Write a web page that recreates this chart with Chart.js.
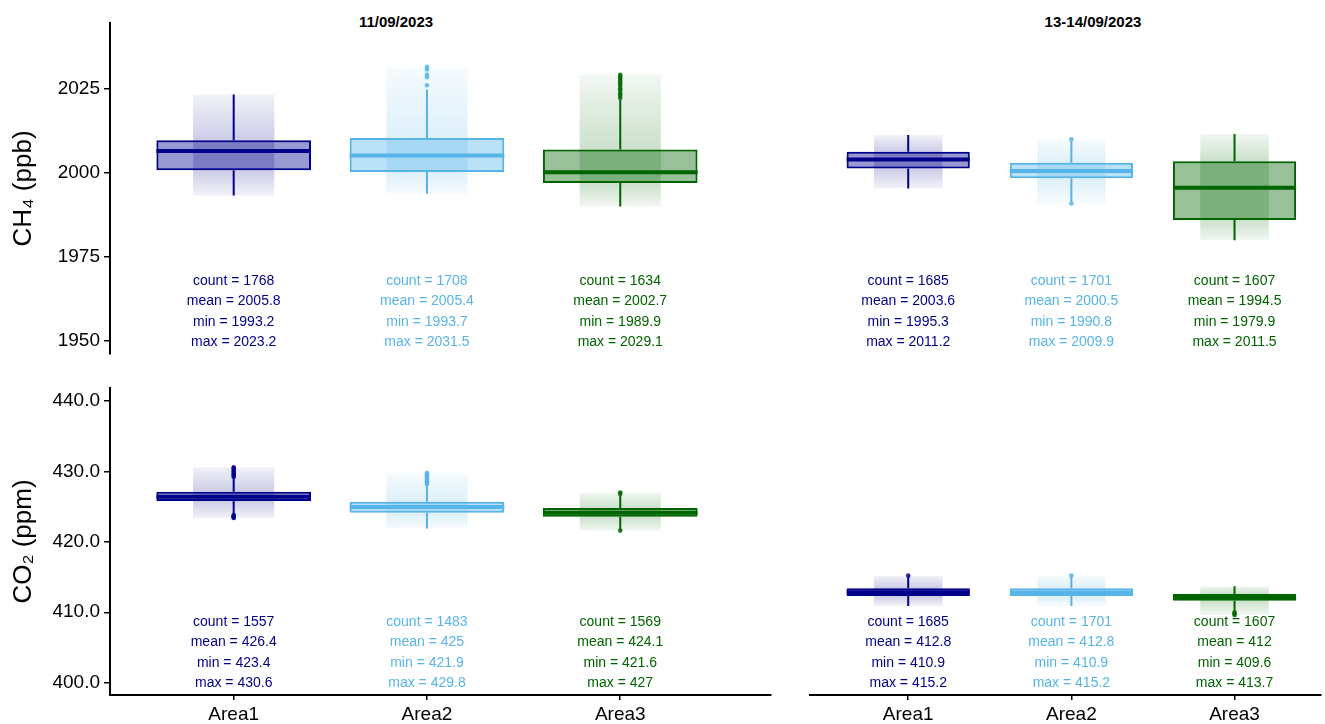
<!DOCTYPE html>
<html>
<head>
<meta charset="utf-8">
<script src="https://cdn.jsdelivr.net/npm/chart.js@4.4.1/dist/chart.umd.min.js"></script>
<style>
body{margin:0;background:#fff;width:1325px;height:724px;overflow:hidden;position:relative;font-family:"Liberation Sans",Arial,sans-serif}
.pan{position:absolute}
.facet{position:absolute;font-weight:bold;font-size:15px;transform:translateX(-50%);white-space:nowrap;color:#000}
</style>
</head>
<body>
<div class="facet" style="left:396px;top:13px">11/09/2023</div>
<div class="facet" style="left:1093px;top:13px">13-14/09/2023</div>
<canvas id="c_tl" class="pan" width="775" height="360" style="left:0;top:0"></canvas>
<canvas id="c_tr" class="pan" width="519" height="360" style="left:806px;top:0"></canvas>
<canvas id="c_bl" class="pan" width="775" height="354" style="left:0;top:370px"></canvas>
<canvas id="c_br" class="pan" width="519" height="354" style="left:806px;top:370px"></canvas>
<script>

//------------------------------- data

const areas  = ['Area1', 'Area2', 'Area3'];
const colors = ['#00008B', '#56B4E9', '#006400'];

const ch4_ticks = [1950, 1975, 2000, 2025];
const co2_ticks = [400, 410, 420, 430, 440];

// CH4, 11/09/2023
const ch4_d1_q1   = [2000.7, 2000.2, 1996.9];
const ch4_d1_med  = [2006.4, 2005.1, 2000.1];
const ch4_d1_q3   = [2009.6, 2010.3, 2006.9];
const ch4_d1_lo   = [1993.2, 1993.7, 1989.9];
const ch4_d1_hi   = [2023.2, 2024.7, 2021.7];
const ch4_d1_out  = [[], [2026.0, 2028.4, 2029.2, 2030.7, 2031.5],
                     [2022.2, 2022.9, 2023.6, 2024.4, 2025.1, 2025.8, 2026.5, 2027.2, 2027.9, 2028.5, 2029.1]];
const ch4_d1_count = [1768, 1708, 1634];
const ch4_d1_mean  = [2005.8, 2005.4, 2002.7];
const ch4_d1_min   = [1993.2, 1993.7, 1989.9];
const ch4_d1_max   = [2023.2, 2031.5, 2029.1];

// CH4, 13-14/09/2023
const ch4_d2_q1   = [2001.2, 1998.3, 1985.9];
const ch4_d2_med  = [2003.9, 2000.5, 1995.5];
const ch4_d2_q3   = [2006.2, 2002.9, 2003.4];
const ch4_d2_lo   = [1995.3, 1991.3, 1979.9];
const ch4_d2_hi   = [2011.2, 2009.5, 2011.5];
const ch4_d2_out  = [[], [1990.8, 2009.9], []];
const ch4_d2_count = [1685, 1701, 1607];
const ch4_d2_mean  = [2003.6, 2000.5, 1994.5];
const ch4_d2_min   = [1995.3, 1990.8, 1979.9];
const ch4_d2_max   = [2011.2, 2009.9, 2011.5];

// CO2, 11/09/2023
const co2_d1_q1   = [425.8, 424.15, 423.55];
const co2_d1_med  = [426.4, 424.95, 424.15];
const co2_d1_q3   = [427.1, 425.7, 424.8];
const co2_d1_lo   = [423.9, 421.9, 421.7];
const co2_d1_hi   = [429.0, 428.0, 426.6];
const co2_d1_out  = [[423.4, 423.5, 423.6, 423.7, 423.8, 429.2, 429.4, 429.6, 429.8, 430.0, 430.2, 430.4, 430.6],
                     [428.2, 428.4, 428.6, 428.8, 429.0, 429.2, 429.4, 429.6, 429.8],
                     [421.6, 426.8, 427.0]];
const co2_d1_count = [1557, 1483, 1569];
const co2_d1_mean  = [426.4, 425, 424.1];
const co2_d1_min   = [423.4, 421.9, 421.6];
const co2_d1_max   = [430.6, 429.8, 427];

// CO2, 13-14/09/2023
const co2_d2_q1   = [412.3, 412.3, 411.65];
const co2_d2_med  = [412.85, 412.8, 412.1];
const co2_d2_q3   = [413.4, 413.4, 412.6];
const co2_d2_lo   = [410.9, 410.9, 410.2];
const co2_d2_hi   = [415.0, 415.0, 413.7];
const co2_d2_out  = [[415.2], [415.2], [409.6, 409.8, 410.0]];
const co2_d2_count = [1685, 1701, 1607];
const co2_d2_mean  = [412.8, 412.8, 412];
const co2_d2_min   = [410.9, 410.9, 409.6];
const co2_d2_max   = [415.2, 415.2, 413.7];

//-------------------------------

Chart.defaults.font.family = '"Liberation Sans", Arial, sans-serif';
Chart.defaults.color = '#000';

function rgba(hex, a){
    let r = parseInt(hex.substr(1,2),16), g = parseInt(hex.substr(3,2),16), b = parseInt(hex.substr(5,2),16);
    return 'rgba('+r+','+g+','+b+','+a+')';
}

// count / mean / min / max under each box
const stats_plugin = {
    id: 'stats',
    afterDatasetsDraw(chart, args, opts){
        const ctx = chart.ctx;
        const xs = chart.scales.x;
        const bottom = chart.chartArea.bottom;
        ctx.save();
        ctx.font = '14px "Liberation Sans", Arial, sans-serif';
        ctx.textAlign = 'center';
        ctx.textBaseline = 'middle';
        for (let i = 0; i < areas.length; i++) {
            let x = xs.getPixelForValue(i+1);
            let lines = ['count = '+opts.count[i], 'mean = '+opts.mean[i], 'min = '+opts.min[i], 'max = '+opts.max[i]];
            ctx.fillStyle = colors[i];
            for (let k = 0; k < lines.length; k++) {
                ctx.fillText(lines[k], x, bottom - 73 + k*20.5);
            }
        }
        ctx.restore();
    }
};

function make_panel(id, p){

    let datasets = [];

    // jitter cloud band (min..max), denser round the box
    datasets.push({
        type: 'bar',
        data: areas.map((a,i) => ({x: i+1, y: [p.min[i], p.max[i]]})),
        backgroundColor: c => {
            const chart = c.chart;
            const i = c.dataIndex;
            if (!chart.chartArea || i === undefined) return rgba(colors[0], 0.1);
            const ys = chart.scales.y;
            const g = chart.ctx.createLinearGradient(0, ys.getPixelForValue(p.max[i]), 0, ys.getPixelForValue(p.min[i]));
            const span = p.max[i] - p.min[i];
            const f3 = Math.min(1, Math.max(0, (p.max[i] - p.q3[i]) / span));
            const f1 = Math.min(1, Math.max(f3, (p.max[i] - p.q1[i]) / span));
            g.addColorStop(0, rgba(colors[i], 0.05));
            g.addColorStop(f3, rgba(colors[i], 0.2));
            g.addColorStop(f1, rgba(colors[i], 0.2));
            g.addColorStop(1, rgba(colors[i], 0.05));
            return g;
        },
        borderWidth: 0,
        grouped: false,
        barPercentage: 1,
        categoryPercentage: 0.42,
        order: 5
    });

    // box q1..q3
    datasets.push({
        type: 'bar',
        data: areas.map((a,i) => ({x: i+1, y: [p.q1[i], p.q3[i]]})),
        backgroundColor: colors.map(c => rgba(c, 0.4)),
        borderColor: colors,
        borderWidth: 2,
        borderSkipped: false,
        grouped: false,
        barPercentage: 1,
        categoryPercentage: p.box,
        order: 4
    });

    let hw = p.box/2;
    for (let i = 0; i < areas.length; i++) {
        datasets.push({
            type: 'line',
            data: [{x:i+1, y:p.lo[i]}, {x:i+1, y:p.q1[i]}, {x:i+1, y:null}, {x:i+1, y:p.q3[i]}, {x:i+1, y:p.hi[i]}],
            borderColor: colors[i],
            borderWidth: 2,
            pointRadius: 0,
            order: 3
        });
        datasets.push({
            type: 'line',
            data: [{x:i+1-hw, y:p.med[i]}, {x:i+1+hw, y:p.med[i]}],
            borderColor: colors[i],
            borderWidth: 4,
            pointRadius: 0,
            order: 2
        });
        datasets.push({
            type: 'scatter',
            data: p.out[i].map(v => ({x:i+1, y:v})),
            backgroundColor: rgba(colors[i], 0.85),
            borderWidth: 0,
            pointRadius: 2.3,
            order: 1
        });
    }

    return new Chart(document.getElementById(id), {
        type: 'bar',
        data: { datasets: datasets },
        plugins: [stats_plugin],
        options: {
            responsive: false,
            animation: false,
            events: [],
            layout: { padding: { top: p.pad_top, bottom: p.show_x ? 0 : 6, left: 0, right: p.pad_right } },
            plugins: {
                legend: { display: false },
                tooltip: { enabled: false },
                stats: { count: p.count, mean: p.mean, min: p.min, max: p.max }
            },
            scales: {
                x: {
                    type: 'linear',
                    display: p.show_x,
                    min: p.x_min,
                    max: p.x_max,
                    offset: false,
                    afterBuildTicks: s => { s.ticks = [1,2,3].map(v => ({value: v})); },
                    afterFit: s => { if (p.show_x) s.height = 29; s.paddingLeft = 0; s.paddingRight = 0; },
                    grid: { display: true, offset: false, drawOnChartArea: false, drawTicks: true, tickLength: 5, color: '#000', lineWidth: 1.5 },
                    border: { display: true, color: '#000', width: 2 },
                    ticks: { font: { size: 19 }, color: '#000', padding: 3, maxRotation: 0, callback: v => areas[v-1] }
                },
                y: {
                    type: 'linear',
                    display: p.show_y,
                    min: p.y_min,
                    max: p.y_max,
                    afterBuildTicks: s => { s.ticks = p.ticks.map(v => ({value: v})); },
                    afterFit: s => { if (p.show_y) s.width = 110; s.paddingTop = 0; s.paddingBottom = 0; },
                    grid: { display: true, drawOnChartArea: false, drawTicks: true, tickLength: 6, color: '#000', lineWidth: 1.5 },
                    border: { display: true, color: '#000', width: 2 },
                    ticks: { font: { size: 19 }, color: '#000', padding: 4, callback: p.fmt },
                    title: { display: true, text: p.title, font: { size: 26 }, color: '#000', padding: { top: 8, bottom: 0 } }
                }
            }
        }
    });
}

//-------------------------------

make_panel('c_tl', {
    q1: ch4_d1_q1, med: ch4_d1_med, q3: ch4_d1_q3, lo: ch4_d1_lo, hi: ch4_d1_hi, out: ch4_d1_out,
    count: ch4_d1_count, mean: ch4_d1_mean, min: ch4_d1_min, max: ch4_d1_max,
    ticks: ch4_ticks, fmt: v => String(v), title: 'CH\u2084 (ppb)',
    y_min: 1946.05, y_max: 2044.5, x_min: 0.36, x_max: 3.78, box: 0.8,
    show_x: false, show_y: true, pad_top: 23, pad_right: 1
});

make_panel('c_tr', {
    q1: ch4_d2_q1, med: ch4_d2_med, q3: ch4_d2_q3, lo: ch4_d2_lo, hi: ch4_d2_hi, out: ch4_d2_out,
    count: ch4_d2_count, mean: ch4_d2_mean, min: ch4_d2_min, max: ch4_d2_max,
    ticks: ch4_ticks, fmt: v => String(v), title: '',
    y_min: 1946.05, y_max: 2044.5, x_min: 0.398, x_max: 3.53, box: 0.755,
    show_x: false, show_y: false, pad_top: 23, pad_right: 0
});

make_panel('c_bl', {
    q1: co2_d1_q1, med: co2_d1_med, q3: co2_d1_q3, lo: co2_d1_lo, hi: co2_d1_hi, out: co2_d1_out,
    count: co2_d1_count, mean: co2_d1_mean, min: co2_d1_min, max: co2_d1_max,
    ticks: co2_ticks, fmt: v => v.toFixed(1), title: 'CO\u2082 (ppm)',
    y_min: 398.25, y_max: 441.85, x_min: 0.36, x_max: 3.78, box: 0.8,
    show_x: true, show_y: true, pad_top: 18, pad_right: 1
});

make_panel('c_br', {
    q1: co2_d2_q1, med: co2_d2_med, q3: co2_d2_q3, lo: co2_d2_lo, hi: co2_d2_hi, out: co2_d2_out,
    count: co2_d2_count, mean: co2_d2_mean, min: co2_d2_min, max: co2_d2_max,
    ticks: co2_ticks, fmt: v => v.toFixed(1), title: '',
    y_min: 398.25, y_max: 441.85, x_min: 0.398, x_max: 3.53, box: 0.755,
    show_x: true, show_y: false, pad_top: 18, pad_right: 0
});

</script>
</body>
</html>
